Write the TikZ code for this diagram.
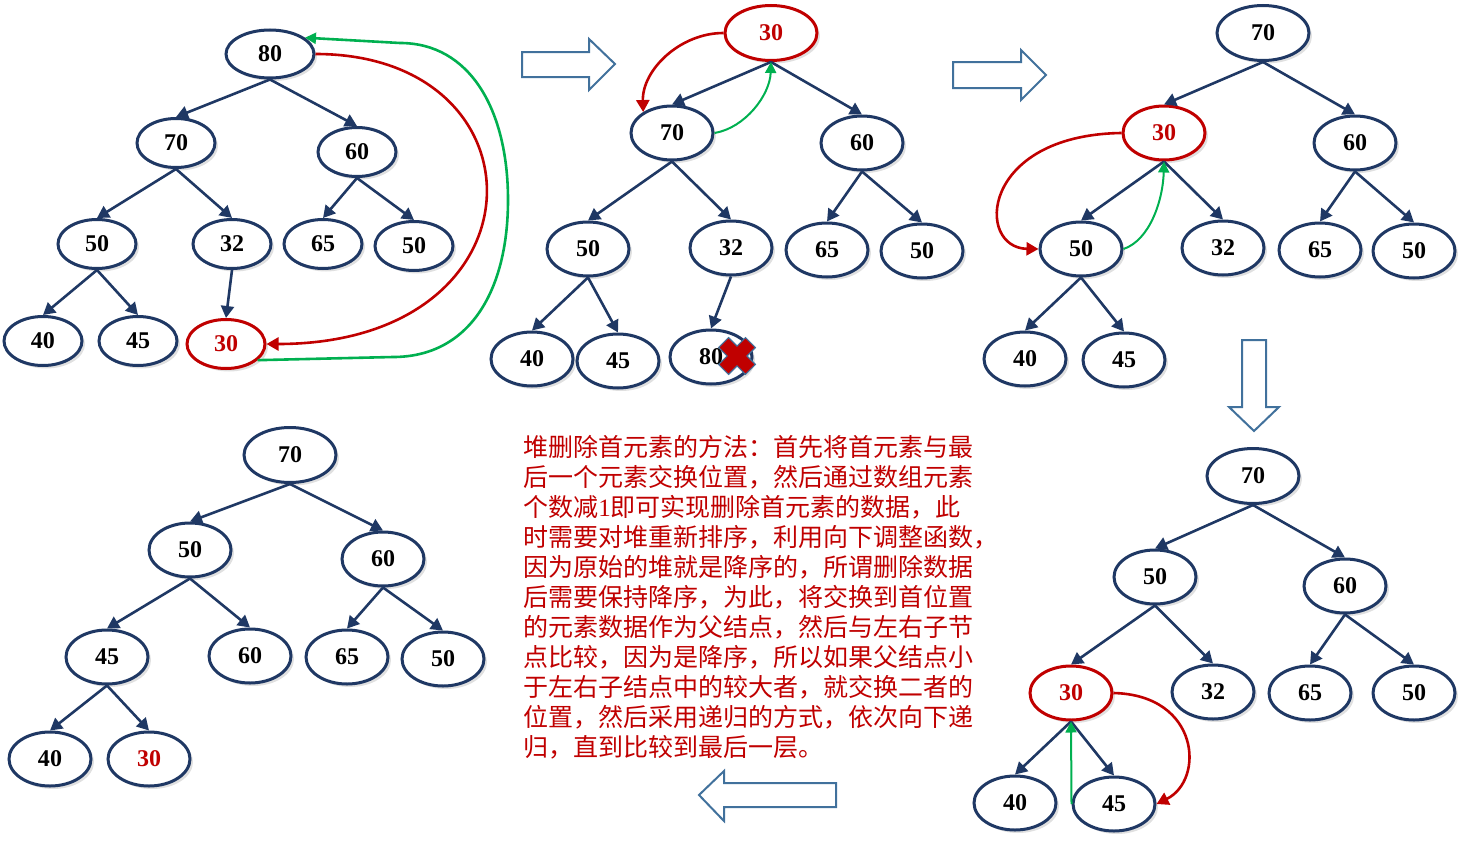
\documentclass[tikz,border=0pt]{standalone}
\usepackage{fontspec}
\setmainfont{Liberation Serif}
\newfontfamily\cjk{Noto Sans CJK SC}
\usetikzlibrary{shapes.geometric,arrows.meta,shadows}
\definecolor{HeapBlue}{HTML}{1F3864}
\definecolor{SwapRed}{HTML}{C00000}
\definecolor{SwapGreen}{HTML}{00B050}
\definecolor{ArrowBlue}{HTML}{41719C}

\begin{document}
\begin{tikzpicture}[
    x=0.5pt, y=-0.5pt,
    heap/.style = {ellipse, draw=HeapBlue, line width=1.5pt, fill=white,
      minimum width=41pt, minimum height=27pt, inner sep=0pt,
      font=\bfseries\fontsize{12pt}{12pt}\selectfont,
      drop shadow={shadow xshift=1.5pt, shadow yshift=-1.5pt,
        opacity=0.35, fill=black!35}},
    small/.style = {minimum width=39pt, minimum height=24.5pt},
    root/.style = {minimum width=46pt, minimum height=27.5pt},
    hot/.style = {draw=SwapRed, text=SwapRed},
    link/.style = {line width=1.3pt, draw=HeapBlue,
      -{Triangle[length=6pt,width=6.5pt]}},
    sink/.style = {line width=1.3pt, draw=SwapRed,
      -{Triangle[length=6pt,width=6.5pt]}},
    rise/.style = {line width=1pt, draw=SwapGreen,
      -{Triangle[length=5.5pt,width=5.5pt]}},
    hollow/.style = {draw=ArrowBlue, line width=1pt, fill=white},
    xmark/.style = {draw=ArrowBlue, line width=0.6pt, fill=SwapRed}
  ]
  \useasboundingbox (0,0) rectangle (1472,846);

  \node (a1) [heap, minimum width=44pt, minimum height=24pt] at (270,54) {80};
  \node (a2) [heap, small] at (176,143) {70};
  \node (a3) [heap, small] at (357,152) {60};
  \node (a4) [heap, small] at (97,244) {50};
  \node (a5) [heap, small] at (232,244) {32};
  \node (a6) [heap, small] at (323,244) {65};
  \node (a7) [heap, small] at (414,246) {50};
  \node (a8) [heap, small] at (43,341) {40};
  \node (a9) [heap, small] at (138,341) {45};
  \node (a10) [heap, small, hot] at (226,344) {30};

  \node (b1) [heap, root, hot] at (771,33) {30};
  \node (b2) [heap] at (672,133) {70};
  \node (b3) [heap] at (862,143) {60};
  \node (b4) [heap] at (588,249) {50};
  \node (b5) [heap] at (731,248) {32};
  \node (b6) [heap] at (827,250) {65};
  \node (b7) [heap] at (922,251) {50};
  \node (b8) [heap] at (532,359) {40};
  \node (b9) [heap] at (618,361) {45};
  \node (b10) [heap] at (711,357) {80};

  \node (c1) [heap, root] at (1263,33) {70};
  \node (c2) [heap, hot] at (1164,133) {30};
  \node (c3) [heap] at (1355,143) {60};
  \node (c4) [heap] at (1081,249) {50};
  \node (c5) [heap] at (1223,248) {32};
  \node (c6) [heap] at (1320,250) {65};
  \node (c7) [heap] at (1414,251) {50};
  \node (c8) [heap] at (1025,359) {40};
  \node (c9) [heap] at (1124,360) {45};

  \node (d1) [heap, root] at (1253,476) {70};
  \node (d2) [heap] at (1155,577) {50};
  \node (d3) [heap] at (1345,586) {60};
  \node (d4) [heap, hot] at (1071,693) {30};
  \node (d5) [heap] at (1213,692) {32};
  \node (d6) [heap] at (1310,693) {65};
  \node (d7) [heap] at (1414,693) {50};
  \node (d8) [heap] at (1015,803) {40};
  \node (d9) [heap] at (1114,804) {45};

  \node (e1) [heap, root] at (290,455) {70};
  \node (e2) [heap] at (190,550) {50};
  \node (e3) [heap] at (383,559) {60};
  \node (e4) [heap] at (107,657) {45};
  \node (e5) [heap] at (250,656) {60};
  \node (e6) [heap] at (347,657) {65};
  \node (e7) [heap] at (443,659) {50};
  \node (e8) [heap] at (50,759) {40};
  \node (e9) [heap, text=SwapRed] at (149,759) {30};

  \draw [link] (a1.south) -- (a2.north);  \draw [link] (a1.south) -- (a3.north);
  \draw [link] (a2.south) -- (a4.north);  \draw [link] (a2.south) -- (a5.north);
  \draw [link] (a3.south) -- (a6.north);  \draw [link] (a3.south) -- (a7.north);
  \draw [link] (a4.south) -- (a8.north);  \draw [link] (a4.south) -- (a9.north);
  \draw [link] (a5.south) -- (a10.north);

  \draw [link] (b1.south) -- (b2.north);  \draw [link] (b1.south) -- (b3.north);
  \draw [link] (b2.south) -- (b4.north);  \draw [link] (b2.south) -- (b5.north);
  \draw [link] (b3.south) -- (b6.north);  \draw [link] (b3.south) -- (b7.north);
  \draw [link] (b4.south) -- (b8.north);  \draw [link] (b4.south) -- (b9.north);
  \draw [link] (b5.south) -- (b10.north);

  \draw [link] (c1.south) -- (c2.north);  \draw [link] (c1.south) -- (c3.north);
  \draw [link] (c2.south) -- (c4.north);  \draw [link] (c2.south) -- (c5.north);
  \draw [link] (c3.south) -- (c6.north);  \draw [link] (c3.south) -- (c7.north);
  \draw [link] (c4.south) -- (c8.north);  \draw [link] (c4.south) -- (c9.north);

  \draw [link] (d1.south) -- (d2.north);  \draw [link] (d1.south) -- (d3.north);
  \draw [link] (d2.south) -- (d4.north);  \draw [link] (d2.south) -- (d5.north);
  \draw [link] (d3.south) -- (d6.north);  \draw [link] (d3.south) -- (d7.north);
  \draw [link] (d4.south) -- (d8.north);  \draw [link] (d4.south) -- (d9.north);

  \draw [link] (e1.south) -- (e2.north);  \draw [link] (e1.south) -- (e3.north);
  \draw [link] (e2.south) -- (e4.north);  \draw [link] (e2.south) -- (e5.north);
  \draw [link] (e3.south) -- (e6.north);  \draw [link] (e3.south) -- (e7.north);
  \draw [link] (e4.south) -- (e8.north);  \draw [link] (e4.south) -- (e9.north);

  \draw [sink] (a1.east) .. controls (550,54) and (550,344) .. (a10.east);
  \draw [rise, line width=1.3pt] (a10.-27) -- (393,357)
    .. controls (470,357) and (508,290) .. (508,200)
    .. controls (508,110) and (470,43) .. (400,43) -- (a1.25);
  \draw [sink] (b1.west) .. controls (680,33) and (642,70) .. (b2.144);
  \draw [rise] (b2.east) .. controls (745,128) and (770,95) .. (b1.south);
  \draw [sink] (c2.west) .. controls (980,135) and (975,248) .. (c4.west);
  \draw [rise] (c4.east) .. controls (1150,240) and (1163,200) .. (c2.south);
  \draw [sink] (d4.east) .. controls (1200,695) and (1205,780) .. (d9.east);
  \draw [rise] (d9.west) -- (d4.south);

  \begin{scope}[shift={(737,356)}, rotate=45]
    \draw [xmark] (-7,-19) -- (7,-19) -- (7,-7) -- (19,-7) -- (19,7) -- (7,7)
      -- (7,19) -- (-7,19) -- (-7,7) -- (-19,7) -- (-19,-7) -- (-7,-7) -- cycle;
  \end{scope}

  \draw [hollow] (522,52) -- (589,52) -- (589,39) -- (615,64) -- (589,90)
    -- (589,77) -- (522,77) -- cycle;
  \draw [hollow] (953,62) -- (1021,62) -- (1021,50) -- (1046,75) -- (1021,100)
    -- (1021,88) -- (953,88) -- cycle;
  \draw [hollow] (1242,340) -- (1266,340) -- (1266,407) -- (1279,407)
    -- (1254,431) -- (1229,407) -- (1242,407) -- cycle;
  \draw [hollow] (836,783) -- (724,783) -- (724,771) -- (699,795) -- (724,821)
    -- (724,807) -- (836,807) -- cycle;

  \node (note) [anchor=north west, inner sep=0pt, align=left, text=SwapRed,
    font=\cjk\fontsize{12.5pt}{15pt}\selectfont] at (523,435)
    {堆删除首元素的方法：首先将首元素与最\\
     后一个元素交换位置，然后通过数组元素\\
     个数减{\normalfont 1}即可实现删除首元素的数据，此\\
     时需要对堆重新排序，利用向下调整函数，\\
     因为原始的堆就是降序的，所谓删除数据\\
     后需要保持降序，为此，将交换到首位置\\
     的元素数据作为父结点，然后与左右子节\\
     点比较，因为是降序，所以如果父结点小\\
     于左右子结点中的较大者，就交换二者的\\
     位置，然后采用递归的方式，依次向下递\\
     归，直到比较到最后一层。};
\end{tikzpicture}
\end{document}
